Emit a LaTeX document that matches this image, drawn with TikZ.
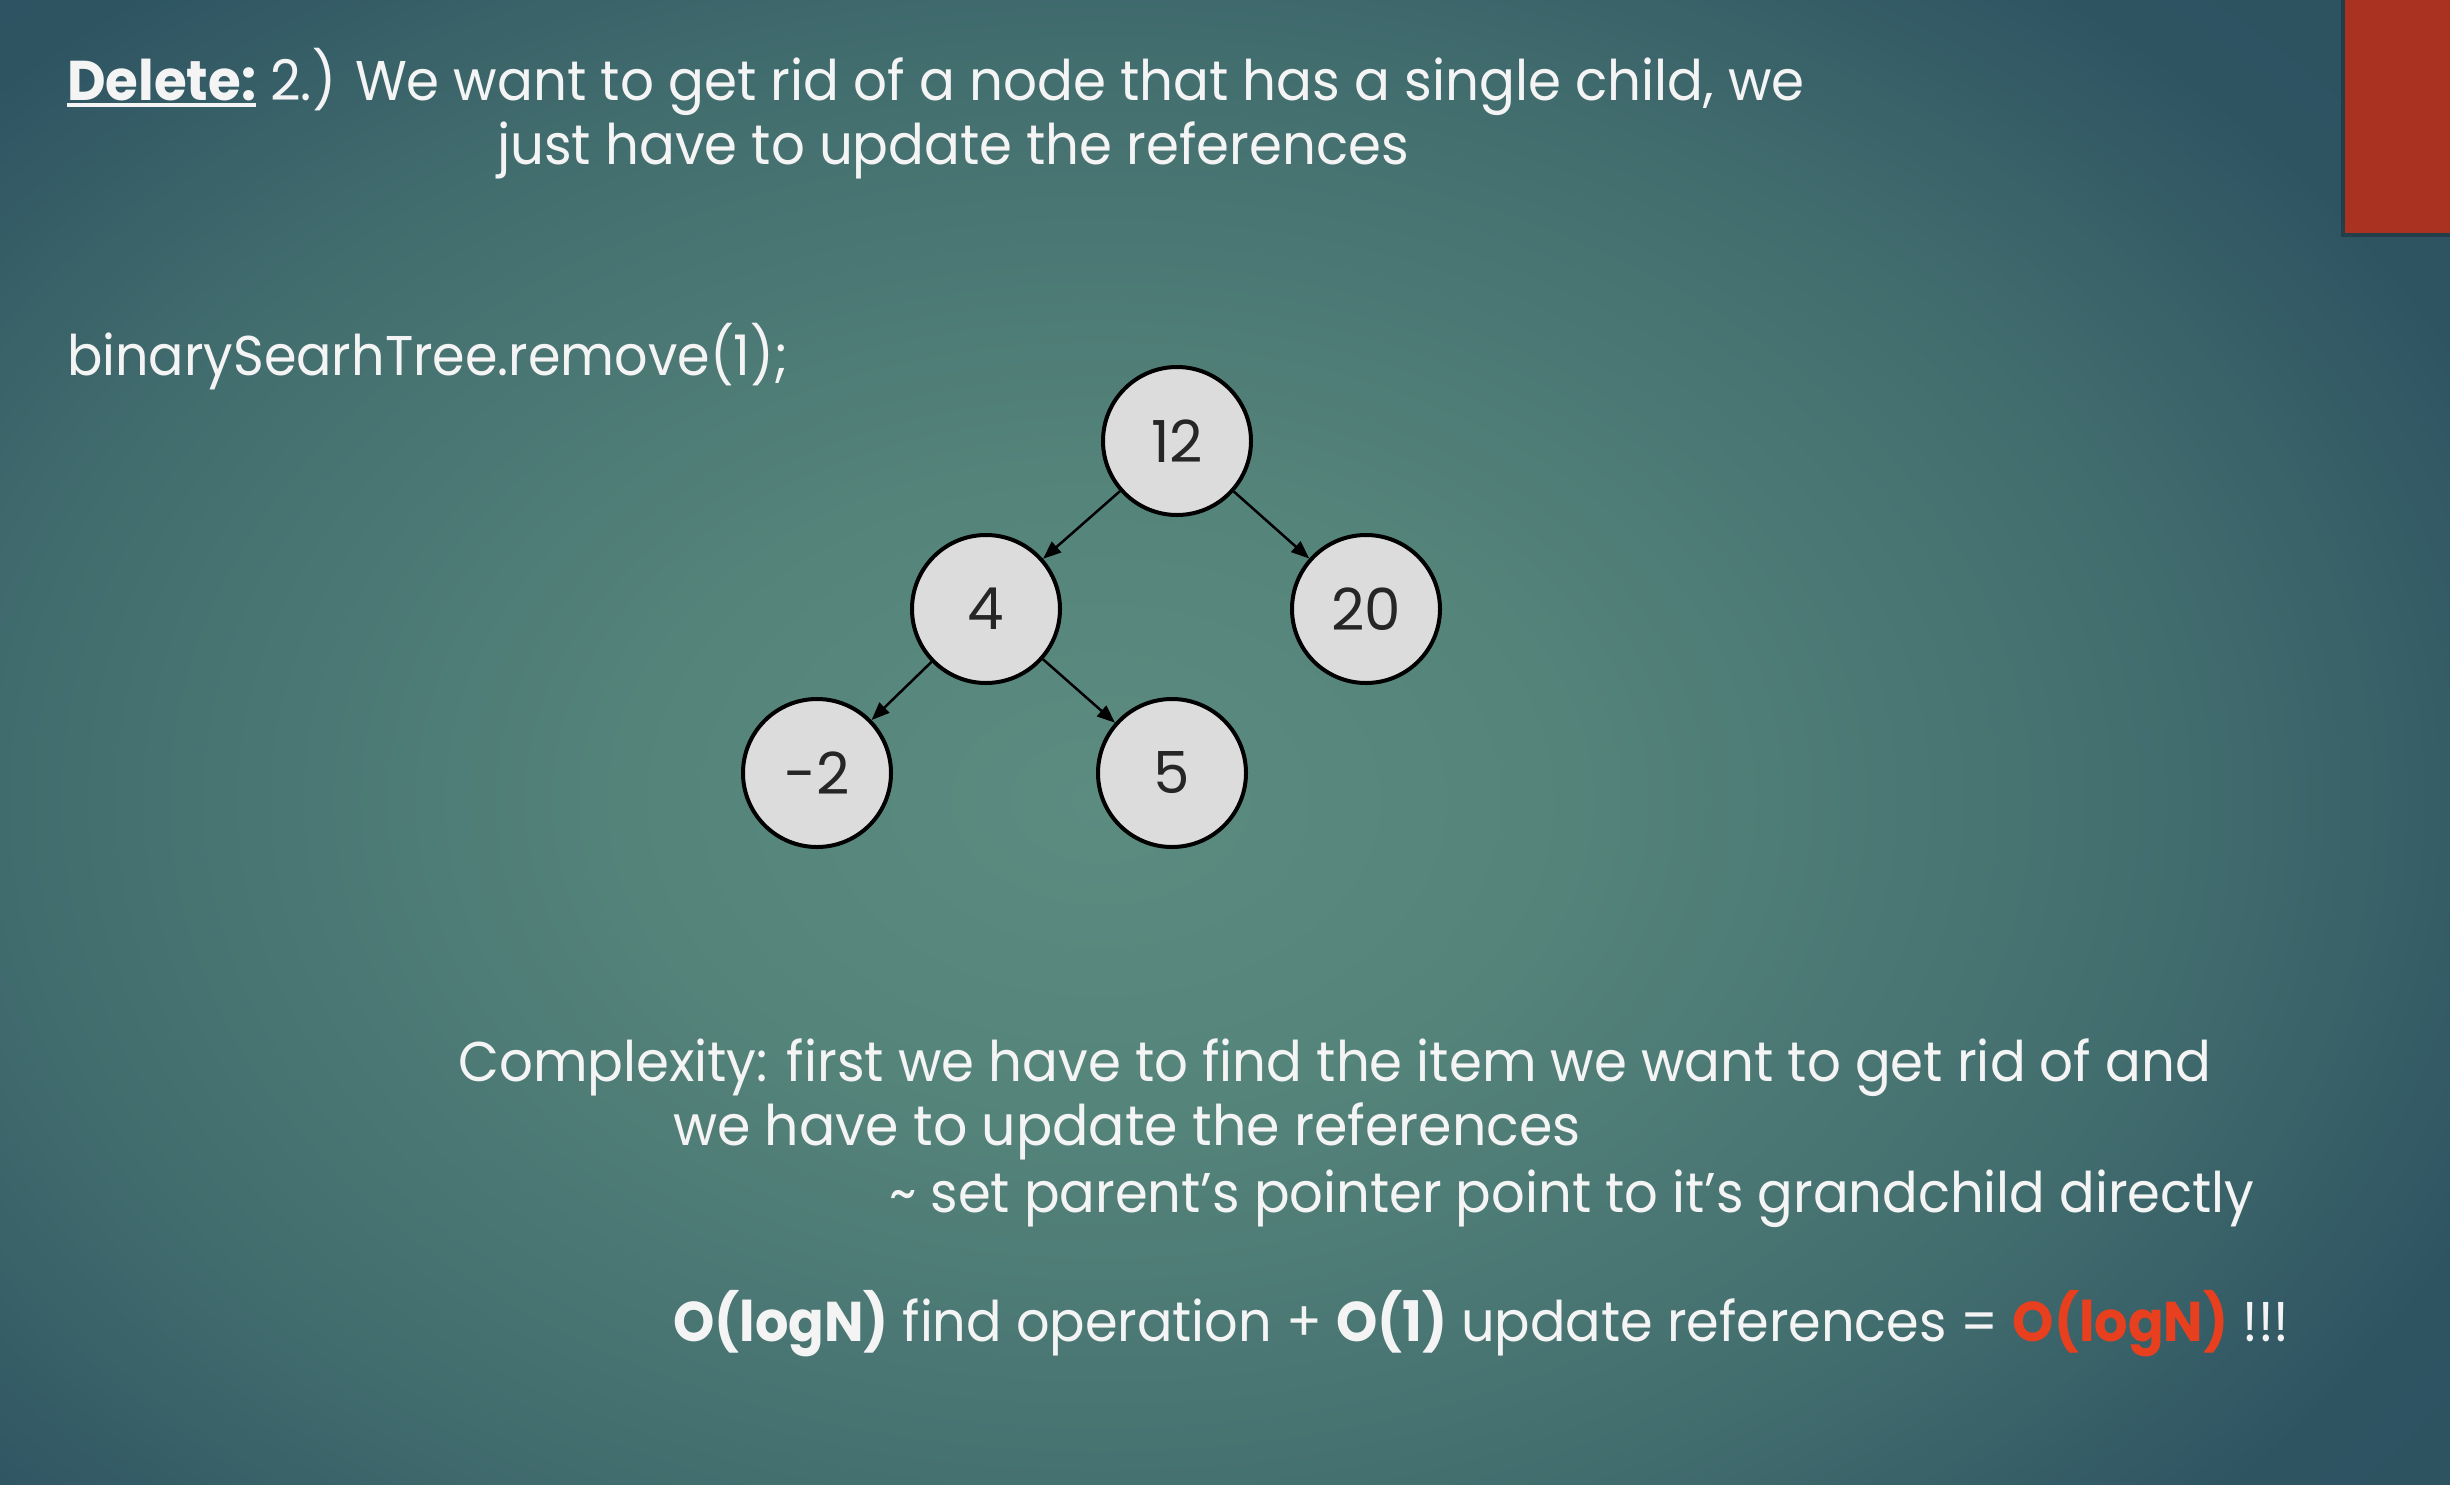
\documentclass[tikz,border=0pt]{standalone}
\usepackage{fontspec}
\setmainfont{Poppins}
\usetikzlibrary{arrows.meta}

% slide palette
\definecolor{bgin}{HTML}{5C8C80}
\definecolor{bgb}{HTML}{54837A}
\definecolor{bgc}{HTML}{426D6E}
\definecolor{bgd}{HTML}{2E5462}
\definecolor{bgout}{HTML}{26475A}
\definecolor{accent}{HTML}{A93220}
\definecolor{hot}{HTML}{E8401F}
\definecolor{nodefill}{HTML}{DCDCDC}
\definecolor{ink}{HTML}{F4F4F4}

\pgfdeclareradialshading{slidebg}{\pgfpoint{0bp}{0bp}}{%
  color(0bp)=(bgin); color(8bp)=(bgb); color(18bp)=(bgc);
  color(25bp)=(bgd); color(50bp)=(bgout)}

% bold word with a thick underline
\newcommand\ulbold[1]{\setbox0\hbox{\textbf{#1}}%
  \rlap{\rule[-0.12em]{\wd0}{0.065em}}\box0\relax}
% horizontally condensed line of text
\newcommand\squeeze[2]{\scalebox{#1}[1]{#2}}

\tikzset{
  slidetext/.style={text=ink, anchor=base west, inner sep=0pt,
    font=\fontsize{56}{67}\selectfont},
  treenode/.style={circle, draw=black, line width=4pt, fill=nodefill,
    minimum size=148pt, inner sep=0pt, text=black!85,
    font=\fontsize{58}{66}\selectfont},
  edge/.style={line width=2.5pt, draw=black,
    -{Triangle[length=18pt,width=14pt]}}
}

\begin{document}
\begin{tikzpicture}[x=1pt,y=-1pt]
\useasboundingbox (0,0) rectangle (2450,1484);

% background gradient
\begin{scope}
  \clip (0,0) rectangle (2450,1484);
  \shade[shading=slidebg] (-400,-250) rectangle (2600,1850);
\end{scope}

% accent bar with its shadow
\fill[black,opacity=0.25] (2341,0) rectangle (2450,237);
\fill[accent] (2345,0) rectangle (2450,233);

% heading
\node[slidetext] (title1) at (67,100)
  {\squeeze{0.948}{\ulbold{Delete:} 2.) We want to get rid of a node that has a single child, we}};
\node[slidetext] (title2) at (497,164)
  {\squeeze{0.946}{just have to update the references}};

\node[slidetext] (code) at (67,375) {\squeeze{0.935}{binarySearhTree.remove(1);}};

% tree
\node[treenode] (n12) at (1177,441) {12};
\node[treenode] (n4)  at (986,609)  {4};
\node[treenode] (n20) at (1366,609) {20};
\node[treenode] (nm2) at (817,773)  {-2};
\node[treenode] (n5)  at (1172,773) {5};

\draw[edge] (n12) -- (n4);
\draw[edge] (n12) -- (n20);
\draw[edge] (n4) -- (nm2);
\draw[edge] (n4) -- (n5);

% complexity notes
\node[slidetext] (cx1) at (458,1081)
  {\squeeze{0.946}{Complexity: first we have to find the item we want to get rid of and}};
\node[slidetext] (cx2) at (673,1145)
  {\squeeze{0.96}{we have to update the references}};
\node[slidetext] (cx3) at (889,1212)
  {\squeeze{0.942}{\textasciitilde{} set parent’s pointer point to it’s grandchild directly}};
\node[slidetext] (cost) at (673,1341)
  {\squeeze{0.938}{\textbf{O(logN)} find operation + \textbf{O(1)} update references =
   \textcolor{hot}{\textbf{O(logN)}} !!!}};
\end{tikzpicture}
\end{document}
